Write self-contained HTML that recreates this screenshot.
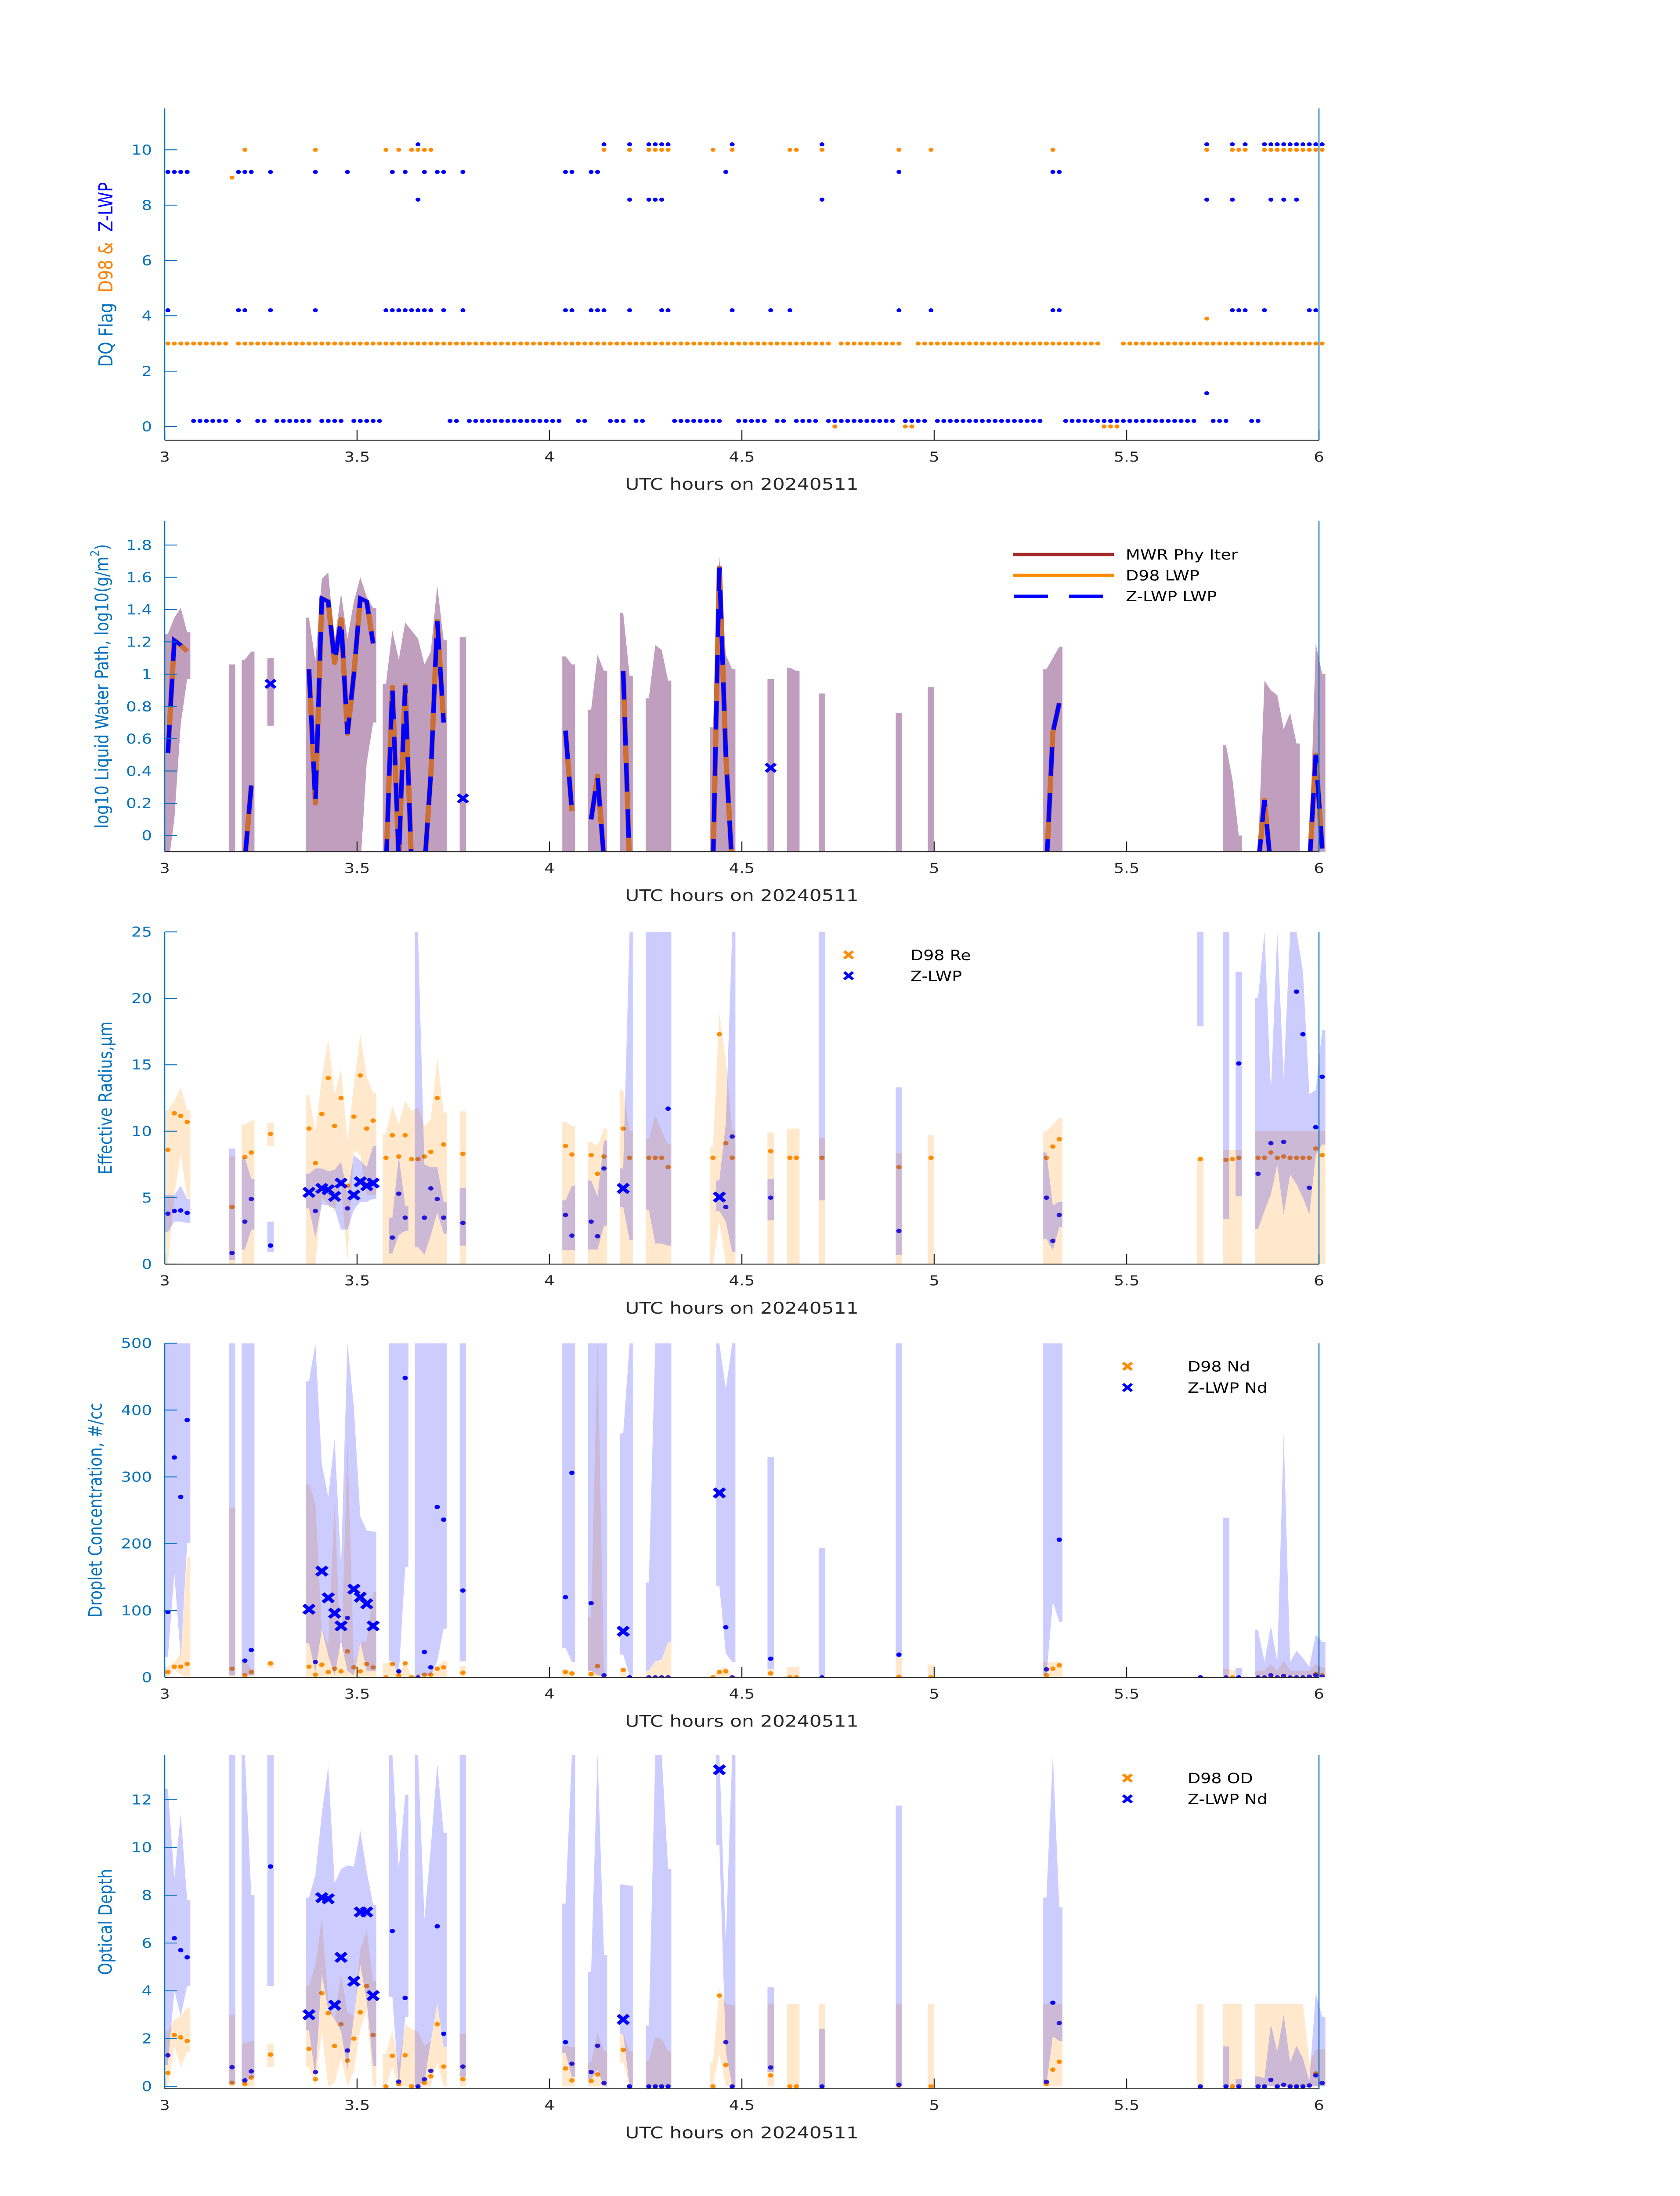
<!DOCTYPE html>
<html><head><meta charset="utf-8">
<style>
html,body{margin:0;padding:0;background:#fff;width:100%;height:100%;overflow:hidden;}
svg{display:block;font-family:"DejaVu Sans","Liberation Sans",sans-serif;}
</style></head>
<body>
<svg id="fig" width="100%" height="100%" viewBox="0 0 3825 6000" preserveAspectRatio="none" xmlns="http://www.w3.org/2000/svg">
<rect width="3825" height="6000" fill="#ffffff"/>
<defs id="defs"></defs>
<text transform="translate(241,750) rotate(-90)" text-anchor="middle" dominant-baseline="central" font-size="44"><tspan fill="#0072bd">DQ Flag&#160;&#160;</tspan><tspan fill="#ff8000">D98 &amp;&#160;&#160;</tspan><tspan fill="#0000ff">Z-LWP</tspan></text>
<text transform="translate(233,1875) rotate(-90)" text-anchor="middle" dominant-baseline="central" font-size="42" fill="#0072bd">log10 Liquid Water Path, log10(g/m<tspan dy="-16" font-size="28">2</tspan><tspan dy="16">)</tspan></text>
<text transform="translate(241,3000) rotate(-90)" text-anchor="middle" dominant-baseline="central" font-size="42" fill="#0072bd">Effective Radius,μm</text>
<text transform="translate(218,4126) rotate(-90)" text-anchor="middle" dominant-baseline="central" font-size="42" fill="#0072bd">Droplet Concentration, #/cc</text>
<text transform="translate(241,5251) rotate(-90)" text-anchor="middle" dominant-baseline="central" font-size="42" fill="#0072bd">Optical Depth</text>
<text x="1689" y="1338" text-anchor="middle" font-size="44" fill="#262626">UTC hours on 20240511</text>
<text x="1689" y="2462" text-anchor="middle" font-size="44" fill="#262626">UTC hours on 20240511</text>
<text x="1689" y="3589" text-anchor="middle" font-size="44" fill="#262626">UTC hours on 20240511</text>
<text x="1689" y="4718" text-anchor="middle" font-size="44" fill="#262626">UTC hours on 20240511</text>
<text x="1689" y="5842" text-anchor="middle" font-size="44" fill="#262626">UTC hours on 20240511</text>
<g>
<line x1="2306" y1="1515" x2="2536" y2="1515" stroke="#a52a2a" stroke-width="9"/>
<text x="2563" y="1529" font-size="38" fill="#000">MWR Phy Iter</text>
<line x1="2306" y1="1572" x2="2536" y2="1572" stroke="#ff8c00" stroke-width="9"/>
<text x="2563" y="1586" font-size="38" fill="#000">D98 LWP</text>
<line x1="2308" y1="1629" x2="2514" y2="1629" stroke="#0000ff" stroke-width="9" stroke-dasharray="78 48"/>
<text x="2563" y="1643" font-size="38" fill="#000">Z-LWP LWP</text>
</g>
<g>
<path d="M1922 2599 L1942 2619 M1942 2599 L1922 2619" stroke="#ff8c00" stroke-width="7"/>
<text x="2073" y="2623" font-size="38" fill="#000">D98 Re</text>
<path d="M1922 2656 L1942 2676 M1942 2656 L1922 2676" stroke="#0000ff" stroke-width="7"/>
<text x="2073" y="2680" font-size="38" fill="#000">Z-LWP</text>
</g>
<g>
<path d="M2557 3723 L2577 3743 M2577 3723 L2557 3743" stroke="#ff8c00" stroke-width="7"/>
<text x="2704" y="3747" font-size="38" fill="#000">D98 Nd</text>
<path d="M2557 3781 L2577 3801 M2577 3781 L2557 3801" stroke="#0000ff" stroke-width="7"/>
<text x="2704" y="3805" font-size="38" fill="#000">Z-LWP Nd</text>
</g>
<g>
<path d="M2557 4848 L2577 4868 M2577 4848 L2557 4868" stroke="#ff8c00" stroke-width="7"/>
<text x="2704" y="4872" font-size="38" fill="#000">D98 OD</text>
<path d="M2557 4905 L2577 4925 M2577 4905 L2557 4925" stroke="#0000ff" stroke-width="7"/>
<text x="2704" y="4929" font-size="38" fill="#000">Z-LWP Nd</text>
</g>
</svg>
<script>
const xTicks = [3, 3.5, 4, 4.5, 5, 5.5, 6];
const xTickLabels = ["3", "3.5", "4", "4.5", "5", "5.5", "6"];
const flagTicks = [0, 2, 4, 6, 8, 10];
const lwpTicks = [0, 0.2, 0.4, 0.6, 0.8, 1, 1.2, 1.4, 1.6, 1.8];
const lwpTickLabels = ["0", "0.2", "0.4", "0.6", "0.8", "1", "1.2", "1.4", "1.6", "1.8"];
const reTicks = [0, 5, 10, 15, 20, 25];
const ndTicks = [0, 100, 200, 300, 400, 500];
const odTicks = [0, 2, 4, 6, 8, 10, 12];

const d98Flag3Runs = [[0,9],[11,103],[105,114],[117,145],[149,180]];
const d98Flag0Runs = [[104,104],[115,116],[146,148]];
const d98Flag9Runs = [[10,10]];
const d98Flag4Runs = [[162,162]];
const d98Flag10Runs = [[12,12],[23,23],[34,34],[36,36],[38,41],[68,68],[72,72],[75,78],[85,85],[88,88],[97,98],[102,102],[114,114],[119,119],[138,138],[162,162],[166,168],[171,180]];
const d98FlagLevels = [3, 0, 9, 3.9, 10];
const zFlag0Runs = [[4,9],[11,11],[14,15],[17,22],[24,27],[29,33],[44,45],[47,61],[64,65],[69,71],[73,74],[79,86],[89,93],[95,96],[98,101],[103,113],[115,118],[120,136],[140,160],[163,165],[169,170]];
const zFlag4Runs = [[0,0],[11,12],[16,16],[23,23],[34,41],[43,43],[46,46],[62,63],[66,68],[72,72],[77,78],[88,88],[94,94],[97,97],[114,114],[119,119],[138,139],[166,168],[171,171],[178,179]];
const zFlag8Runs = [[39,39],[72,72],[75,77],[102,102],[162,162],[166,166],[172,172],[174,174],[176,176]];
const zFlag9Runs = [[0,3],[11,13],[16,16],[23,23],[28,28],[35,35],[37,37],[40,40],[42,43],[46,46],[62,63],[66,67],[87,87],[114,114],[138,139]];
const zFlag10Runs = [[39,39],[68,68],[72,72],[75,78],[88,88],[102,102],[162,162],[166,166],[168,168],[171,180]];
const zFlag1Runs = [[162,162]];
const zFlagLevels = [0.2, 4.2, 8.2, 9.2, 10.2, 1.2];

const lwpMin = [0,1,2,3,10,12,13,16,22,23, 24,25,26,27,28,29,30,31,32,34, 35,36,37,38,39,40,41,42,43,46, 62,63,66,67,68,71,72,75,76,77, 78,85,86,87,88,94,97,98,102,114, 119,137,138,139,165,166,167,170,171,172, 173,174,175,176,178,179,180];
const lwpHi = [1.25,1.35,1.41,1.26,1.06,1.09,1.14,1.1,1.35,1.08, 1.59,1.63,1.2,1.5,1.22,1.45,1.6,1.48,1.41,0.94, 1.27,1.09,1.32,1.27,1.22,1.06,1.14,1.55,1.21,1.23, 1.11,1.06,0.78,1.12,1.02,1.38,0.99,0.85,1.18,1.15, 0.96,0.67,1.73,1.12,1.03,0.97,1.04,1.02,0.88,0.76, 0.92,1.03,1.1,1.17,0.56,0.35,0.0,-0.1,0.96,0.9, 0.87,0.66,0.76,0.57,-0.1,1.19,1.0];
const lwpLo = [-0.2,0.1,0.69,0.97,-0.2,-0.2,-0.2,0.68,-0.2,-0.2, -0.2,-0.2,-0.2,-0.2,-0.2,-0.2,-0.2,0.45,0.7,-0.2, -0.2,-0.2,-0.2,-0.2,-0.2,-0.2,-0.2,-0.2,-0.2,-0.2, -0.2,-0.2,-0.2,-0.2,-0.2,-0.2,-0.2,-0.2,-0.2,-0.2, -0.2,-0.2,-0.2,-0.2,-0.2,-0.2,-0.2,-0.2,-0.2,-0.2, -0.2,-0.2,-0.2,-0.2,-0.2,-0.2,-0.2,-0.2,-0.2,-0.2, -0.2,-0.2,-0.2,-0.2,-0.2,-0.2,-0.2];
const zLwp = [0.51,1.21,1.18,1.14,null,-0.15,0.31,null,1.03,0.2, 1.47,1.45,1.07,1.34,0.63,1.0,1.47,1.45,1.19,-0.2, 0.92,-0.15,0.93,-0.2,-0.2,-0.2,0.38,1.33,0.7,null, 0.65,0.15,0.1,0.37,-0.15,1.02,-0.2,null,null,null, null,-0.2,1.66,0.5,-0.2,null,null,null,null,null, null,-0.2,0.64,0.82,null,null,null,-0.2,0.22,-0.2, null,null,null,null,-0.2,0.5,-0.08];
const d98Lwp = [0.51,1.21,1.18,1.14,null,-0.15,0.31,null,1.03,0.2, 1.47,1.45,1.07,1.34,0.63,1.0,1.47,1.45,1.19,-0.2, 0.92,-0.15,0.93,-0.2,-0.2,-0.2,0.38,1.33,0.7,null, 0.65,0.15,0.1,0.37,-0.15,1.02,-0.2,null,null,null, null,-0.2,1.66,0.5,-0.2,null,null,null,null,null, null,-0.2,0.64,0.82,null,null,null,-0.2,0.22,-0.2, null,null,null,null,-0.2,0.5,-0.08];
const lwpMarkMin = [16, 46, 94];
const lwpMarkVal = [0.94, 0.23, 0.42];

const retMin = [0,1,2,3,10,12,13,16,22,23, 24,25,26,27,28,29,30,31,32,34, 35,36,37,38,39,40,41,42,43,46, 62,63,66,67,68,71,72,75,76,77, 78,85,86,87,88,94,97,98,102,114, 119,137,138,139,161,165,166,167,170,171, 172,173,174,175,176,177,178,179,180];
const bigMarkerMin = [22,24,25,26,27,29,30,31,32,71,86];
const n = null;
const d98Re = [8.6,11.35,11.15,10.7,4.3,8.06,8.4,9.8,10.2,7.6, 11.3,14.0,10.4,12.5,5.9,11.1,14.2,10.2,10.8,8.0, 9.7,8.1,9.7,7.9,7.9,8.1,8.45,12.5,9.0,8.3, 8.9,8.25,8.2,6.8,8.1,10.2,8.0,8.0,8.0,8.0, 7.3,8.0,17.3,9.1,8.0,8.5,8.0,8.0,8.0,7.3, 8.0,8.0,8.85,9.4,7.9,7.85,7.9,8.0,8.0,8.0, 8.4,8.0,8.1,8.0,8.0,8.0,8.0,8.7,8.2];
const d98ReLo = [0,5.2,8.3,5.0,0,0,0,8.9,0,0, 5.0,4.5,4.0,6.0,0.2,8.6,8.2,5.2,5.2,0, 0,0,0,0,0,0,0,0,0,0, 0,0,0,0,0,0,0,0,0,0, 0,0,3.2,0,0,0,0,0,0,0, 0,0,0,0,0,0,0,0,0,0, 0,0,0,0,0,0,0,0,0];
const d98ReHi = [11.6,12.3,13.3,11.6,8.1,10.5,10.8,10.6,12.7,10.0, 14.0,16.9,12.8,14.7,9.3,13.5,17.3,14.1,12.9,9.8, 11.9,10.5,12.3,11.5,11.8,10.4,10.9,15.5,11.4,11.5, 10.7,10.4,9.2,8.9,10.2,13.1,10.0,9.4,11.2,10.0, 9.0,8.8,18.9,15.3,10.1,9.9,10.2,10.2,9.5,8.35, 9.7,10.0,10.5,11.0,8.1,8.6,8.6,8.6,10.0,10.0, 10.0,10.0,10.0,10.0,10.0,10.0,10.0,10.0,10.0];
const zRe = [3.8,4.0,4.04,3.86,0.84,3.2,4.9,1.4,5.4,4.0, 5.7,5.6,5.1,6.1,4.2,5.2,6.2,5.9,6.1,n, 2.0,5.3,3.5,n,n,3.5,5.7,4.9,3.5,3.1, 3.7,2.15,3.2,2.1,7.2,5.7,n,n,n,n, 11.7,n,5.05,4.3,9.6,5.0,n,n,n,2.5, n,5.0,1.75,3.7,n,n,n,15.1,6.8,n, 9.1,n,9.2,n,20.5,17.3,5.75,10.3,14.1];
const zReLo = [2.4,3.2,3.2,3.1,0.3,1.1,2.6,0.9,4.2,2.0, 4.5,4.4,4.2,2.6,2.6,4.1,4.7,4.7,4.9,n, 0.8,2.2,2.5,n,1.3,0.7,2.2,3.9,2.3,1.4, 1.06,1.06,1.1,1.1,2.9,4.3,1.8,4.1,1.55,1.55, 1.4,n,4.0,3.2,0.9,3.3,n,n,4.8,0.7, n,1.9,1.05,2.8,17.9,3.4,n,5.1,2.65,4.0, 5.25,7.5,3.75,6.75,6.0,5.0,3.75,8.2,9.0];
const zReHi = [5.2,5.2,5.9,4.9,8.7,8.0,6.4,3.2,6.8,7.2, 7.2,7.0,7.1,7.7,5.3,8.2,7.8,7.3,8.9,n, 3.5,8.1,4.4,n,25,7.5,7.3,7.3,4.7,5.75, 4.8,5.9,6.3,5.1,9.3,7.2,25,25,25,25, 25,n,6.3,10.6,25,6.4,n,n,25,13.3, n,8.4,4.4,4.7,25,25,n,22.0,20,25, 13,25,14,25,25,22,12.8,13.1,17.6];
const d98Nd = [8,16,16,20,13,3,8,21,16,4, 19,8,13,9,39,15,9,20,15,0, 20,3,21,0,n,4,4,13,15,7, 8,6,5,17,n,11,n,n,n,n, n,0,8,9,n,6,0,0,n,1, 0,3,13,18,n,n,0,n,n,n, 3,n,n,n,n,n,n,5,3];
const d98NdLo = [0,11,4,0,0,0,0,14,0,0, 0,0,0,0,0,0,0,0,0,0, 0,0,0,0,0,0,0,0,0,0, 0,0,0,0,0,0,n,0,0,0, 0,0,0,0,0,0,0,0,n,0, 0,0,0,0,n,0,0,n,0,0, 0,0,0,0,0,0,0,0,0];
const d98NdHi = [16,23,36,180,254,25,13,24,289,260, 73,49,260,16,350,16,53,54,128,21, 24,3,24,3,5,4,10,16,25,17, 13,8,90,500,3,13,n,9,24,24, 53,3,13,16,3,13,16,16,n,31, 19,23,23,23,n,13,11,n,10,10, 20,10,25,10,10,10,10,20,15];
const zNd = [98,329,270,385,n,25,41,n,102,23, 159,119,96,77,89,132,120,110,77,n, n,9,448,n,0,38,15,255,236,130, 120,306,111,n,3,69,0,0,0,0, 0,n,276,75,0,28,n,n,0,34, n,12,n,206,0,0,n,0,0,0, 3,0,2,0,0,0,1,3,1];
const zNdLo = [31,156,29,201,3,3,3,n,51,8, 73,33,3,54,10,3,53,10,10,n, 24,3,165,n,3,3,3,24,73,24, 44,23,10,3,3,34,3,10,24,26, 53,n,137,36,23,13,n,n,3,31, n,3,113,83,n,3,n,3,3,3, 3,3,3,3,3,3,3,3,3];
const zNdHi = [500,500,500,500,500,500,500,n,443,500, 319,270,356,167,500,404,241,220,218,n, 500,500,500,n,500,500,500,500,500,500, 500,500,500,500,500,365,500,142,500,500, 500,n,500,431,500,330,n,n,194,500, n,500,500,500,n,239,n,14,71,23, 77,23,366,23,40,29,16,64,53];
const d98Od = [0.56,2.15,2.05,1.9,0.15,0.1,0.37,1.33,1.57,0.3, 3.9,3.06,1.69,2.6,1.08,2.0,3.1,4.2,2.15,0, 1.28,0.1,1.3,0,n,0.15,0.42,2.6,0.83,0.3, 0.75,0.25,0.23,0.5,n,1.53,n,n,n,n, n,0,3.8,0.9,n,0.46,0,0,n,0.03, 0,0.1,0.7,1.03,n,n,0,n,n,n, n,n,n,n,n,n,n,0.54,n];
const d98OdLo = [0,1.7,0.8,1.45,0,0,0,0.8,0.8,0, 2.3,0,0.15,1.2,0,0.65,2.4,3.2,0,0, 0.8,0,0,0,0,0,0,1.0,0,0, 0,0,0,0,0,1.0,0,0,0,0, 0,0,1.4,0,0,0,0,0,0,0, 0,0,0,0,0,0,0,0,0,0, 0,0,0,0,0,0,0,0,0];
const d98OdHi = [2.3,2.8,2.95,3.3,3.0,1.8,1.9,1.76,4.2,5.1, 7.0,3.6,2.8,4.7,3.1,2.95,5.7,6.55,4.4,1.35, 2.35,0.9,2.6,2.4,2.3,1.7,1.9,3.5,1.65,2.2, 1.7,1.65,1.0,2.25,1.5,2.2,1.47,1.07,2.05,2.0, 1.47,1.0,4.1,3.45,3.4,3.45,3.45,3.45,3.45,3.45, 3.45,3.45,3.45,3.45,3.45,3.45,3.45,3.45,3.45,3.45, 3.45,3.45,3.45,3.45,3.45,3.45,1.0,1.55,1.55];
const zOd = [1.3,6.2,5.7,5.4,0.8,0.25,0.63,9.2,3.0,0.6, 7.9,7.85,3.4,5.4,1.5,4.4,7.3,7.3,3.8,n, 6.5,0.2,3.7,n,0,0.3,0.65,6.7,2.2,0.83, 1.85,0.95,0.6,1.7,0.14,2.8,0,0,0,0, 0,n,13.25,1.85,0,0.79,n,n,0,0.07, n,0.19,3.5,2.65,0,0,n,0,0,0, 0.27,0,0.07,0,0,0,0.04,0.46,0.14];
const zOdLo = [0.9,4.0,2.95,4.2,0.1,0.15,0.37,4.2,2.35,0.4, 4.7,3.2,2.8,2.3,0.7,2.95,5.1,3.6,0.85,n, 3.75,0,2.9,n,0,0.2,1.9,3.5,1.65,0.4, 1.4,0.4,0.3,0.7,0,2.2,0,0,0,0, 0,n,10.1,1.45,0,0.6,n,n,0,0, n,0.1,2.1,1.9,n,0,n,0,0,0, 0,0,0,0,0,0,0,0,0];
const zOdHi = [12.45,8.7,11.4,7.8,13.9,13.9,8.0,13.9,7.9,8.85, 11.4,13.4,8.5,9.1,9.25,9.2,10.7,9.0,7.6,n, 13.9,9.1,12.2,n,13.9,7.0,10.0,13.5,10.6,13.9, 7.65,13.9,4.8,13.9,5.5,8.45,8.4,2.55,13.9,13.9, 9.1,n,13.9,6.0,13.9,4.15,n,n,2.4,11.75, n,7.9,13.9,7.5,n,1.67,n,0.3,0.42,0.35, 2.6,1.45,3.0,1.0,1.7,1.17,0.2,3.9,2.9];

const NS = 'http://www.w3.org/2000/svg';
const svg = document.getElementById('fig');
const defs = document.getElementById('defs');
const X0 = 375, X1 = 3003, W = 3825;
function xs(t) { return X0 + (t - 3) / 3 * (X1 - X0); }
function tm(m) { return 3 + (m + 0.5) / 60; }
function mk(tag, attrs, parent, name, inter) {
  const e = document.createElementNS(NS, tag);
  for (const k in attrs) e.setAttribute(k, attrs[k]);
  
  
  (parent || svg).appendChild(e);
  return e;
}
function expand(runs) { const out = []; runs.forEach(r => { for (let m = r[0]; m <= r[1]; m++) out.push(m); }); return out; }

const P = [
  {key:'flag', top:296, bottom:1203, ymin:-0.5, ymax:11.5},
  {key:'lwp', top:1423, bottom:2327, ymin:-0.1, ymax:1.95},
  {key:'re', top:2546, bottom:3454, ymin:0, ymax:25},
  {key:'nd', top:3670, bottom:4583, ymin:0, ymax:500},
  {key:'od', top:4795, bottom:5707, ymin:-0.1, ymax:13.87}
];
function yv(p, v) { return p.bottom - (v - p.ymin) / (p.ymax - p.ymin) * (p.bottom - p.top); }

function makeClip(p) {
  const c = mk('clipPath', {id: 'clip-' + p.key}, defs, 'clip-' + p.key, false);
  mk('rect', {x: 0, y: p.top, width: W, height: p.bottom - p.top}, c, 'clip-rect-' + p.key, false);
  return 'url(#clip-' + p.key + ')';
}

function axes(p, ticks, labels) {
  const g = mk('g', {}, svg, p.key + '-axes', false);
  ticks.forEach((v, i) => {
    const y = yv(p, v);
    mk('line', {x1: X0, y1: y, x2: X0 + 28, y2: y, stroke: '#0072bd', 'stroke-width': 2.5}, g, p.key + '-y-tick', false);
    const t = mk('text', {x: 346, y: y + 13, 'text-anchor': 'end', 'font-size': 37, fill: '#0072bd'}, g, p.key + '-y-tick-label', false);
    t.textContent = labels ? labels[i] : String(v);
  });
  xTicks.forEach((v, i) => {
    const x = xs(v);
    mk('line', {x1: x, y1: p.bottom, x2: x, y2: p.bottom - 28, stroke: '#262626', 'stroke-width': 2.5}, g, p.key + '-x-tick', false);
    const t = mk('text', {x: x, y: p.bottom + 58, 'text-anchor': 'middle', 'font-size': 37, fill: '#262626'}, g, p.key + '-x-tick-label', false);
    t.textContent = xTickLabels[i];
  });
  mk('line', {x1: X0, y1: p.bottom, x2: X1, y2: p.bottom, stroke: '#262626', 'stroke-width': 2.5}, g, p.key + '-x-axis-line', false);
  mk('line', {x1: X0, y1: p.top, x2: X0, y2: p.bottom, stroke: '#0072bd', 'stroke-width': 2.5}, g, p.key + '-y-axis-line', false);
  mk('line', {x1: X1, y1: p.top, x2: X1, y2: p.bottom, stroke: '#0072bd', 'stroke-width': 2.5}, g, p.key + '-right-axis-line', false);
}

function band(p, mins, lo, hi, fill, op, name, parent) {
  let run = [];
  const h = 0.5 / 60;
  const flush = () => {
    if (!run.length) return;
    const a = run[0], b = run[run.length - 1];
    const pts = [];
    pts.push([xs(tm(mins[a]) - h), yv(p, hi[a])]);
    run.forEach(i => pts.push([xs(tm(mins[i])), yv(p, hi[i])]));
    pts.push([xs(tm(mins[b]) + h), yv(p, hi[b])]);
    pts.push([xs(tm(mins[b]) + h), yv(p, lo[b])]);
    for (let k = run.length - 1; k >= 0; k--) pts.push([xs(tm(mins[run[k]])), yv(p, lo[run[k]])]);
    pts.push([xs(tm(mins[a]) - h), yv(p, lo[a])]);
    const d = 'M' + pts.map(q => q[0].toFixed(1) + ' ' + q[1].toFixed(1)).join(' L') + ' Z';
    mk('path', {d: d, fill: fill, 'fill-opacity': op}, parent, name, false);
    run = [];
  };
  for (let i = 0; i < mins.length; i++) {
    if (lo[i] == null || hi[i] == null) { flush(); continue; }
    if (run.length && mins[i] - mins[run[run.length - 1]] > 1) flush();
    run.push(i);
  }
  flush();
}

function dots(p, mins, vals, color, r, name, parent, skip) {
  for (let i = 0; i < mins.length; i++) {
    if (vals[i] == null) continue;
    if (skip && skip.indexOf(mins[i]) >= 0) continue;
    mk('circle', {cx: xs(tm(mins[i])).toFixed(1), cy: yv(p, vals[i]).toFixed(1), r: r, fill: color}, parent, name, false);
  }
}

function xMark(x, y, s, color, sw, parent, name) {
  mk('path', {d: `M${x-s} ${y-s} L${x+s} ${y+s} M${x+s} ${y-s} L${x-s} ${y+s}`, stroke: color, 'stroke-width': sw, fill: 'none'}, parent, name, false);
}

function seriesLine(p, mins, vals, attrs, parent, name) {
  let seg = [];
  const flush = () => {
    if (seg.length > 1) {
      const a = Object.assign({fill: 'none', points: seg.map(q => q[0].toFixed(1) + ',' + q[1].toFixed(1)).join(' ')}, attrs);
      mk('polyline', a, parent, name, false);
    }
    seg = [];
  };
  let prev = null;
  for (let i = 0; i < mins.length; i++) {
    if (vals[i] == null) { flush(); prev = null; continue; }
    if (prev != null && mins[i] - prev > 1) flush();
    seg.push([xs(tm(mins[i])), yv(p, vals[i])]);
    prev = mins[i];
  }
  flush();
}

(function () {
  const p = P[0];
  const g = mk('g', {}, svg, 'dq-flag-plot', false);
  const d98Sets = [d98Flag3Runs, d98Flag0Runs, d98Flag9Runs, d98Flag4Runs, d98Flag10Runs];
  d98Sets.forEach((runs, k) => {
    expand(runs).forEach(m => {
      mk('circle', {cx: xs(tm(m)).toFixed(1), cy: yv(p, d98FlagLevels[k]).toFixed(1), r: 5.5, fill: '#ff8c00'}, g, 'd98-flag-point', false);
    });
  });
  const zSets = [zFlag0Runs, zFlag4Runs, zFlag8Runs, zFlag9Runs, zFlag10Runs, zFlag1Runs];
  zSets.forEach((runs, k) => {
    expand(runs).forEach(m => {
      mk('circle', {cx: xs(tm(m)).toFixed(1), cy: yv(p, zFlagLevels[k]).toFixed(1), r: 5.5, fill: '#0000ff'}, g, 'zlwp-flag-point', false);
    });
  });
  axes(p, flagTicks, null);
})();

(function () {
  const p = P[1];
  const clip = makeClip(p);
  const g = mk('g', {'clip-path': clip}, svg, 'lwp-plot', false);
  band(p, lwpMin, lwpLo, lwpHi, '#c09ebd', 1, 'mwr-lwp-uncertainty-band', g);
  seriesLine(p, lwpMin, d98Lwp, {stroke: '#cd6f35', 'stroke-width': 12, 'stroke-linejoin': 'round'}, g, 'd98-lwp-line');
  seriesLine(p, lwpMin, zLwp, {stroke: '#0000ff', 'stroke-width': 10, 'stroke-dasharray': '78 48'}, g, 'zlwp-lwp-line');
  lwpMarkMin.forEach((m, i) => xMark(xs(tm(m)), yv(p, lwpMarkVal[i]), 11, '#0000ff', 8, g, 'zlwp-lwp-marker'));
  axes(p, lwpTicks, lwpTickLabels);
})();

function retPanel(p, d98, d98Lo, d98Hi, z, zLo, zHi, ticks) {
  const clip = makeClip(p);
  const g = mk('g', {'clip-path': clip}, svg, p.key + '-plot', false);
  dots(p, retMin, d98, '#ff8c00', 6, 'd98-' + p.key + '-point', g, null);
  dots(p, retMin, z, '#0000ff', 6, 'zlwp-' + p.key + '-point', g, bigMarkerMin);
  band(p, retMin, d98Lo, d98Hi, '#ff8c00', 0.2, 'd98-' + p.key + '-band', g);
  band(p, retMin, zLo, zHi, '#0000ff', 0.2, 'zlwp-' + p.key + '-band', g);
  for (let i = 0; i < retMin.length; i++) {
    if (z[i] == null || bigMarkerMin.indexOf(retMin[i]) < 0) continue;
    xMark(xs(tm(retMin[i])), yv(p, z[i]), 12, '#0000ff', 9, g, 'zlwp-' + p.key + '-flagged-marker');
  }
  axes(p, ticks, null);
}
retPanel(P[2], d98Re, d98ReLo, d98ReHi, zRe, zReLo, zReHi, reTicks);
retPanel(P[3], d98Nd, d98NdLo, d98NdHi, zNd, zNdLo, zNdHi, ndTicks);
retPanel(P[4], d98Od, d98OdLo, d98OdHi, zOd, zOdLo, zOdHi, odTicks);
</script>
</body></html>
